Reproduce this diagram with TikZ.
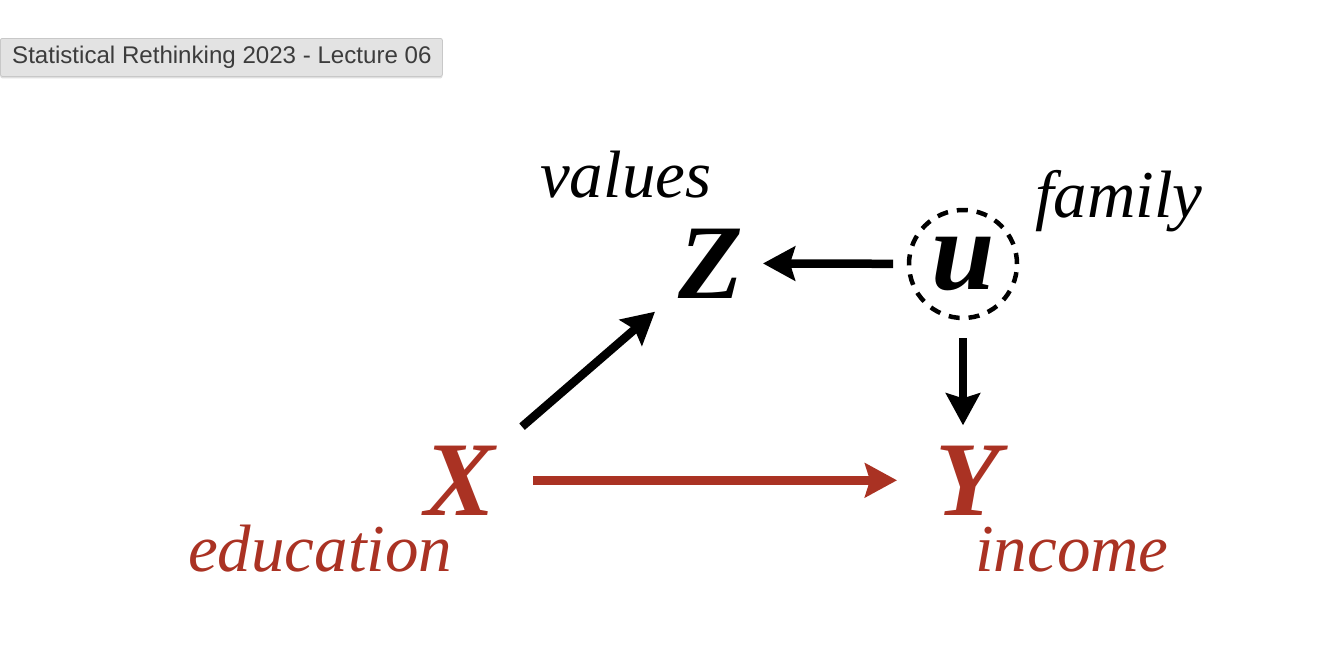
\documentclass[tikz,border=0pt]{standalone}
\usepackage{fontspec}
\setmainfont{Liberation Serif}
\newfontfamily\uisans{Liberation Sans}
\usetikzlibrary{arrows.meta,shadows,shapes.geometric}
\definecolor{dagred}{RGB}{170,50,35}
\definecolor{tipfill}{RGB}{227,227,227}
\definecolor{tipline}{RGB}{200,200,200}
\definecolor{tiptext}{RGB}{60,60,60}
\tikzset{
  bigvar/.style={inner sep=0pt, font=\fontsize{106}{106}\selectfont\bfseries\itshape},
  lbl/.style={inner sep=0pt, anchor=base west, font=\fontsize{67}{67}\selectfont\itshape},
  arr/.style={line width=8.5pt, -{Stealth[length=32pt,width=34pt,inset=5pt]}},
}
\begin{document}
\begin{tikzpicture}[x=1pt,y=-1pt]
\useasboundingbox (0,0) rectangle (1330,664);
\fill[white] (0,0) rectangle (1330,664);
% tooltip
\node[draw=tipline, fill=tipfill, rounded corners=2pt, line width=0.8pt,
      drop shadow={opacity=0.25, shadow xshift=0pt, shadow yshift=-2pt},
      minimum width=442pt, minimum height=38pt, anchor=north west, inner sep=0pt] (tip) at (0,38) {};
\node[anchor=west, inner sep=0pt, text=tiptext, font=\uisans\fontsize{24.1}{24.1}\selectfont] (tiptxt) at (12,57) {Statistical Rethinking 2023 - Lecture 06};
% variables
\node[bigvar, anchor=base] (Z) at (711,298) {Z};
\node[bigvar, anchor=base, text=dagred] (X) at (460,515) {X};
\node[bigvar, anchor=base, text=dagred] (Y) at (968,515) {Y};
\node[circle, draw, line width=4.5pt, dash pattern=on 11pt off 9pt, minimum size=108pt, inner sep=0pt,
      font=\fontsize{114}{114}\selectfont\bfseries\itshape] (u) at (963,264) {u};
% labels
\node[lbl] (values) at (540,197) {values};
\node[lbl] (family) at (1035,217) {family};
\node[lbl, text=dagred] (education) at (188,571) {education};
\node[lbl, text=dagred] (income) at (975,571) {income};
% arrows
\draw[arr, dagred, shorten <=73pt, shorten >=71pt] (X.center) -- (Y.center);
\draw[arr, shorten <=82pt, shorten >=74pt] (X.center) -- (Z.center);
\draw[arr, shorten <=70pt, shorten >=52pt] (u.center) -- (Z.center);
\draw[arr, shorten <=74pt, shorten >=55pt] (u.center) -- (u.center |- Y.center);
\end{tikzpicture}
\end{document}
